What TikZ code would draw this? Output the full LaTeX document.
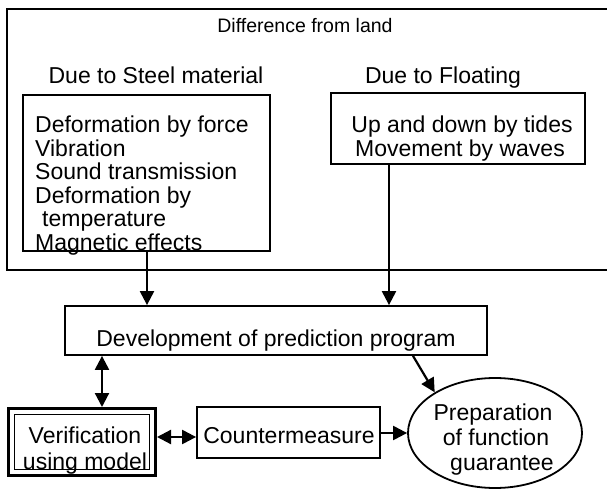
\documentclass[tikz,border=0pt]{standalone}
\usepackage{fontspec}
\setmainfont{Liberation Sans}
\usetikzlibrary{arrows.meta,shapes.geometric}
\begin{document}
\begin{tikzpicture}[x=1pt,y=-1pt,
  box/.style={draw, line width=1.8pt, rectangle, inner sep=0pt},
  txt/.style={font=\fontsize{23}{23}\selectfont, inner sep=0pt, anchor=base},
  txtl/.style={txt, anchor=base west},
  tip/.tip={Triangle[length=14pt,width=14pt]},
  arr/.style={line width=2.2pt, -tip},
  darr/.style={line width=2.2pt, tip-tip},
]
\useasboundingbox (0,0) rectangle (607,489);

% outer frame, open on the right
\draw[line width=2.4pt] (607,9) -- (7,9) -- (7,270) -- (607,270);
\node[txt, font=\fontsize{19.5}{20}\selectfont] (title) at (305,33) {Difference from land};

% the two cause groups
\node[txt] (hsteel) at (156,84) {Due to Steel material};
\node[txt] (hfloat) at (443,84) {Due to Floating};

\node[box, minimum width=247pt, minimum height=156pt] (steel) at (146.5,173) {};
\foreach \t/\x [count=\i from 0] in {Deformation by force/35, Vibration/35,
    Sound transmission/35, Deformation by/35, temperature/42, Magnetic effects/35}
  \node[txtl] (s\i) at (\x,133+23.4*\i) {\t};

\node[box, minimum width=254pt, minimum height=71pt] (float) at (458,128.5) {};
\node[txt] (f0) at (462,133) {Up and down by tides};
\node[txt] (f1) at (460,156.4) {Movement by waves};

% prediction program
\node[box, minimum width=422pt, minimum height=49pt] (pred) at (276,330.5) {};
\node[txt] (predt) at (276,346) {Development of prediction program};

% verification (double frame)
\node[draw, line width=3pt, inner sep=0pt, minimum width=147pt, minimum height=67pt] (verif) at (82,442) {};
\node[draw, line width=1.4pt, inner sep=0pt, minimum width=135pt, minimum height=55pt] (verifin) at (82,442) {};
\node[txt] (v0) at (85,443) {Verification};
\node[txt] (v1) at (85,469) {using model};

% countermeasure
\node[box, minimum width=183pt, minimum height=51pt] (counter) at (288.5,432.5) {};
\node[txt] (ct) at (289,443) {Countermeasure};

% function guarantee
\node[draw, ellipse, line width=1.8pt, inner sep=0pt, minimum width=174pt, minimum height=110pt] (prep) at (495,433) {};
\node[txt] (p0) at (493,420) {Preparation};
\node[txt] (p1) at (496,445) {of function};
\node[txt] (p2) at (502,470) {guarantee};

% connectors
\coordinate (xa) at (147,0);
\coordinate (xb) at (389,0);
\coordinate (xc) at (102,0);
\coordinate (yc) at (0,437);
\coordinate (xd) at (413,0);
\draw[arr] (steel.south -| xa) -- (pred.north -| xa);
\draw[arr] (float.south -| xb) -- (pred.north -| xb);
\draw[darr] (pred.south -| xc) -- (verif.north -| xc);
\draw[darr] (verif.east |- yc) -- (counter.west |- yc);
\draw[arr] (counter.east |- prep.west) -- (prep.west);
\draw[arr] (pred.south -| xd) -- (prep.146);
\end{tikzpicture}
\end{document}
